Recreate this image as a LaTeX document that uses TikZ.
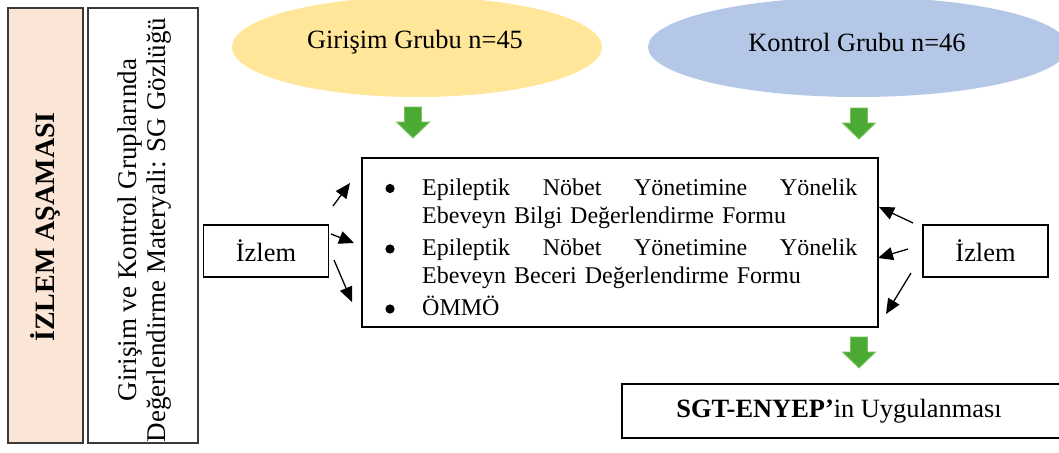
\documentclass[tikz,border=0pt]{standalone}
\usepackage{fontspec}
\setmainfont{Liberation Serif}
\usetikzlibrary{arrows.meta,shapes.geometric}

\definecolor{phasefill}{HTML}{FBE5D6}
\definecolor{groupyellow}{HTML}{FFE699}
\definecolor{groupblue}{HTML}{B4C7E7}
\definecolor{arrowgreen}{HTML}{4AAA34}
\definecolor{arrowedge}{HTML}{7CC35C}
\definecolor{frame}{HTML}{3A3A3A}

\newcommand{\fsbig}{\fontsize{26.4}{29}\selectfont}
\newcommand{\fsbox}{\fontsize{24}{28}\selectfont}

\tikzset{
  sidebox/.style={draw=frame, line width=1.2pt, inner sep=0pt},
  plainbox/.style={draw=black, line width=1.4pt, fill=white, inner sep=0pt, font=\fsbig},
  groupoval/.style={ellipse, inner sep=0pt},
  feed/.style={line width=1.3pt, -{Triangle[length=15pt,width=13pt]}},
  listdot/.style={fill=black},
  downarrow/.pic={
    \fill[arrowgreen, draw=arrowedge, line width=0.9pt]
      (-8.5,0) -- (8.5,0) -- (8.5,15) -- (16.5,15) -- (0,31)
      -- (-16.5,15) -- (-8.5,15) -- cycle;
  }
}

\begin{document}
\begin{tikzpicture}[x=1pt, y=-1pt]
\useasboundingbox (0,0) rectangle (1059,452);
\fill[white] (0,0) rectangle (1059,452);
\clip (0,0) rectangle (1059,452);

% phase column and material column
\node[sidebox, fill=phasefill, minimum width=75pt, minimum height=435pt] (phase) at (45.5,225.5) {};
\node[rotate=90, font=\fontsize{28}{30}\selectfont\bfseries] (phaselabel) at (45,227) {İZLEM AŞAMASI};
\node[sidebox, fill=white, minimum width=110pt, minimum height=435pt] (material) at (143,225.5) {};
\node[rotate=90, align=center, font=\fontsize{27}{29}\selectfont] (materiallabel) at (144.5,230)
  {Girişim ve Kontrol Gruplarında\\Değerlendirme Materyali: SG Gözlüğü};

% study groups
\node[groupoval, fill=groupyellow, minimum width=370pt, minimum height=100pt] (gi) at (417,47) {};
\node[font=\fsbig] (gilabel) at (415,42) {Girişim Grubu n=45};
\node[groupoval, fill=groupblue, minimum width=420pt, minimum height=100pt] (ko) at (858,47) {};
\node[font=\fsbig] (kolabel) at (857,42) {Kontrol Grubu n=46};

% block arrows
\pic (ga1) at (413,107) {downarrow};
\pic (ga2) at (859,108) {downarrow};
\pic (ga3) at (859,337) {downarrow};

% assessment forms
\node[plainbox, minimum width=516pt, minimum height=169pt] (forms) at (620,242.5) {};
\node[anchor=base west, text width=471pt, inner sep=0pt, font=\fsbox] (formlist) at (386,195) {%
\hspace*{36pt}\makebox[435pt][l]{Epileptik\hfill Nöbet\hfill Yönetimine\hfill Yönelik}\\
\hspace*{36pt}Ebeveyn Bilgi Değerlendirme Formu\\[4pt]
\hspace*{36pt}\makebox[435pt][l]{Epileptik\hfill Nöbet\hfill Yönetimine\hfill Yönelik}\\
\hspace*{36pt}Ebeveyn Beceri Değerlendirme Formu\\[4pt]
\hspace*{36pt}ÖMMÖ};
% list bullets
\fill[listdot] (390,188.5) circle (4.6);
\fill[listdot] (390,249) circle (4.6);
\fill[listdot] (390,309) circle (4.6);

% follow-up boxes
\node[plainbox, minimum width=125pt, minimum height=52pt] (izL) at (266,251) {İzlem};
\node[plainbox, minimum width=125pt, minimum height=52pt] (izR) at (985.5,251) {İzlem};

% application box
\node[plainbox, minimum width=440pt, minimum height=54pt] (app) at (842,411) {};
\node[font=\fsbig] (applabel) at (839,411) {\textbf{SGT-ENYEP’}in Uygulanması};

% follow-up arrows
\coordinate (l1s) at (333,206); \coordinate (l1e) at (350,183);
\coordinate (l2s) at (331,234); \coordinate (l2e) at (354,243);
\coordinate (l3s) at (334,260); \coordinate (l3e) at (352,302);
\coordinate (r1s) at (913,223); \coordinate (r1e) at (879,207);
\coordinate (r2s) at (908,249); \coordinate (r2e) at (878,258);
\coordinate (r3s) at (911,273); \coordinate (r3e) at (886,314);
\draw[feed] (l1s) -- (l1e);
\draw[feed] (l2s) -- (l2e);
\draw[feed] (l3s) -- (l3e);
\draw[feed] (r1s) -- (r1e);
\draw[feed] (r2s) -- (r2e);
\draw[feed] (r3s) -- (r3e);
\end{tikzpicture}
\end{document}
